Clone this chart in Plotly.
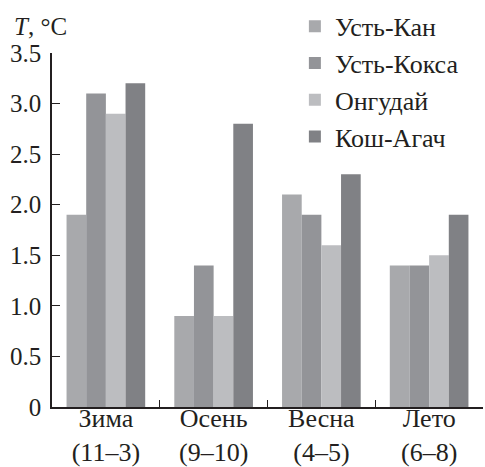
import plotly.graph_objects as go

categories = ["Зима<br>(11–3)", "Осень<br>(9–10)", "Весна<br>(4–5)", "Лето<br>(6–8)"]
series_names = ["Усть-Кан", "Усть-Кокса", "Онгудай", "Кош-Агач"]
ust_kan = [1.9, 0.9, 2.1, 1.4]
ust_koksa = [3.1, 1.4, 1.9, 1.4]
ongudai = [2.9, 0.9, 1.6, 1.5]
kosh_agach = [3.2, 2.8, 2.3, 1.9]
colors = ["#a8a9ac", "#939498", "#bcbdc0", "#808185"]
ytick_vals = [0, 0.5, 1.0, 1.5, 2.0, 2.5, 3.0, 3.5]
ytick_text = ["0", "0.5", "1.0", "1.5", "2.0", "2.5", "3.0", "3.5"]

font_family = "Liberation Serif"
text_color = "#231f20"
fs = 26

fig = go.Figure()
for i, (name, vals) in enumerate(zip(series_names, [ust_kan, ust_koksa, ongudai, kosh_agach])):
    fig.add_trace(go.Bar(x=categories, y=vals, name=name, marker_color=colors[i],
                         marker_line_width=0, legendgroup=f"g{i}"))

fig.update_layout(
    width=485, height=467,
    margin=dict(l=52, r=2, t=53, b=60, autoexpand=False),
    plot_bgcolor="white", paper_bgcolor="white",
    barmode="group", bargap=0.27, bargroupgap=0,
    font=dict(family=font_family, size=fs, color=text_color),
    legend=dict(xref="container", yref="container", x=0.608, y=0.994,
                xanchor="left", yanchor="top",
                font=dict(size=fs, family=font_family, color=text_color),
                tracegroupgap=0, bgcolor="rgba(0,0,0,0)"),
    xaxis=dict(showline=True, linecolor=text_color, linewidth=1.5,
               ticks="inside", ticklen=7, tickcolor=text_color, tickson="boundaries",
               tickfont=dict(size=fs, family=font_family), showgrid=False, automargin=False,
               ticklabelstandoff=-13),
    yaxis=dict(range=[0, 3.5], showline=True, linecolor=text_color, linewidth=1.5,
               ticks="inside", ticklen=8, tickcolor=text_color,
               tickvals=ytick_vals, ticktext=ytick_text, showgrid=False, zeroline=False,
               tickfont=dict(size=25, family=font_family), automargin=False,
               ticklabelstandoff=4),
    annotations=[dict(text="<i>T</i>, °C", xref="paper", yref="paper",
                      x=-40/431, y=1 + 26/354,
                      xanchor="left", yanchor="middle", showarrow=False,
                      font=dict(size=25, family=font_family, color=text_color))],
)

fig.write_html("out.html", config={"displayModeBar": False},
               post_script="document.body.style.margin='0';document.body.style.overflow='hidden';")
